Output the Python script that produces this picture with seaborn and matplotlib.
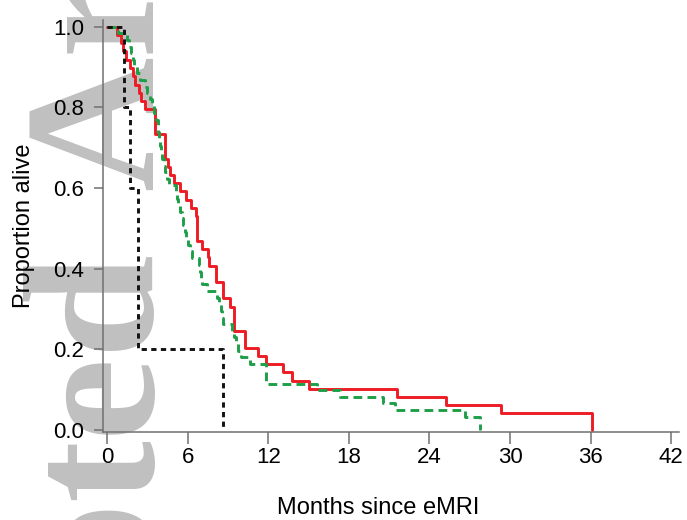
import matplotlib
matplotlib.use("Agg")
import matplotlib.pyplot as plt
import pandas as pd
import seaborn as sns

# Kaplan-Meier steps (months since eMRI, proportion alive)
red_months = [0, 0.72, 1.07, 1.20, 1.45, 1.70, 1.95, 2.10, 2.35, 2.55, 2.80, 3.57,
              4.35, 4.55, 4.70, 4.95, 5.40, 5.85, 6.25, 6.60, 6.72, 7.10, 7.50, 7.60,
              8.10, 8.66, 9.16, 9.45, 10.30, 11.27, 11.82, 13.10, 13.75, 15.06,
              21.60, 25.20, 29.30, 36.10]
red_alive = [1.0, 0.980, 0.959, 0.939, 0.918, 0.898, 0.878, 0.857, 0.837, 0.816, 0.796, 0.735,
             0.673, 0.653, 0.633, 0.612, 0.592, 0.571, 0.551, 0.531, 0.469, 0.449, 0.429, 0.408,
             0.367, 0.327, 0.306, 0.245, 0.204, 0.184, 0.163, 0.143, 0.122, 0.102,
             0.082, 0.061, 0.041, 0.0]

green_months = [0, 0.82, 1.49, 1.64, 1.79, 1.90, 2.01, 2.20, 2.46, 2.83, 2.98, 3.20, 3.35,
                3.50, 3.65, 3.76, 3.83, 3.87, 3.95, 4.02, 4.13, 4.24, 4.35, 4.47, 4.62,
                5.14, 5.21, 5.29, 5.43, 5.55, 5.66, 5.77, 5.88, 6.03, 6.18, 6.33, 6.85,
                6.92, 7.00, 7.07, 7.44, 8.19, 8.34, 8.49, 8.56, 8.64, 9.31, 9.46, 9.60,
                9.75, 9.98, 10.65, 11.81, 15.61, 17.35, 20.57, 21.44, 26.65, 27.77]
green_alive = [1.0, 0.984, 0.967, 0.951, 0.934, 0.918, 0.902, 0.885, 0.869, 0.852, 0.836, 0.820, 0.803,
               0.787, 0.770, 0.754, 0.738, 0.721, 0.705, 0.689, 0.672, 0.656, 0.639, 0.623, 0.607,
               0.590, 0.574, 0.557, 0.541, 0.525, 0.508, 0.492, 0.475, 0.459, 0.443, 0.426, 0.410,
               0.393, 0.377, 0.361, 0.344, 0.328, 0.311, 0.295, 0.279, 0.262, 0.246, 0.230, 0.213,
               0.197, 0.180, 0.164, 0.115, 0.098, 0.082, 0.066, 0.049, 0.033, 0.0]

black_months = [0, 1.25, 1.70, 2.30, 8.65]
black_alive = [1.0, 0.8, 0.6, 0.2, 0.0]

x_ticks = [0, 6, 12, 18, 24, 30, 36, 42]
y_ticks = [0.0, 0.2, 0.4, 0.6, 0.8, 1.0]

df = pd.concat([
    pd.DataFrame({"months": red_months, "alive": red_alive, "arm": "red"}),
    pd.DataFrame({"months": green_months, "alive": green_alive, "arm": "green"}),
    pd.DataFrame({"months": black_months, "alive": black_alive, "arm": "black"}),
], ignore_index=True)

sns.set_style("ticks")
plt.rcParams["font.family"] = ["Liberation Sans", "DejaVu Sans"]
axis_grey = "#707070"

fig = plt.figure(figsize=(6.87, 5.2), dpi=100)
ax = fig.add_axes([0.1499, 0.1692, 0.8385, 0.7923])
ax.patch.set_facecolor("none")

# faint journal watermark behind the plot
wm = dict(color="#c0c0c0", fontsize=134, family="Liberation Serif", fontweight="bold",
          rotation=90, rotation_mode="anchor", va="baseline", zorder=-1)
fig.text(152 / 687, 330 / 520, "Article", ha="left", **wm)
fig.text(152 / 687, 268 / 520, "Accepted", ha="right", **wm)

sns.lineplot(
    data=df, x="months", y="alive", hue="arm", style="arm",
    palette={"red": "#ed1c24", "green": "#1e9e48", "black": "#111111"},
    dashes={"red": "", "green": (3.0, 1.8), "black": (1.8, 1.5)},
    drawstyle="steps-post", linewidth=2.1, estimator=None, sort=False,
    legend=False, ax=ax
)

ax.set_xlim(-0.3, 42.58)
ax.set_ylim(-0.005, 1.017)
ax.set_xticks(x_ticks)
ax.set_yticks(y_ticks)
ax.set_yticklabels([f"{v:.1f}" for v in y_ticks])

for s in ["top", "right"]:
    ax.spines[s].set_visible(False)
for s in ["left", "bottom"]:
    ax.spines[s].set_color(axis_grey)
    ax.spines[s].set_linewidth(1.1)
ax.tick_params(axis="x", length=8.5, width=1.1, color=axis_grey, pad=2.5,
               labelsize=16, labelcolor="black")
ax.tick_params(axis="y", length=6.8, width=1.1, color=axis_grey, pad=7,
               labelsize=16, labelcolor="black")

ax.set_xlabel("Months since eMRI", fontsize=17, color="black")
ax.set_ylabel("Proportion alive", fontsize=17, color="black")
ax.xaxis.set_label_coords(0.477, -0.158)
ax.yaxis.set_label_coords(-0.118, 0.5)

fig.savefig("out.png", dpi=100)
